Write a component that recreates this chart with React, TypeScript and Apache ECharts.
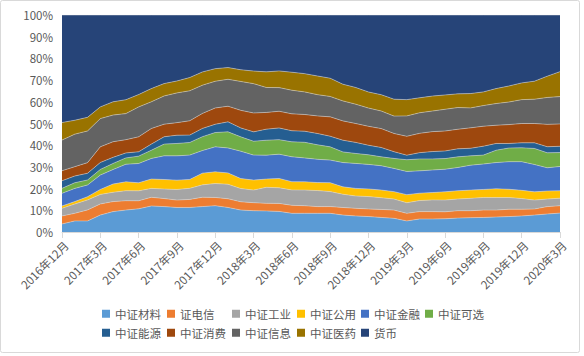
import React, { useEffect, useRef } from "react";
import * as echarts from "echarts";

const months = [
  "2016年12月",
  "2017年1月", "2017年2月", "2017年3月", "2017年4月", "2017年5月", "2017年6月",
  "2017年7月", "2017年8月", "2017年9月", "2017年10月", "2017年11月", "2017年12月",
  "2018年1月", "2018年2月", "2018年3月", "2018年4月", "2018年5月", "2018年6月",
  "2018年7月", "2018年8月", "2018年9月", "2018年10月", "2018年11月", "2018年12月",
  "2019年1月", "2019年2月", "2019年3月", "2019年4月", "2019年5月", "2019年6月",
  "2019年7月", "2019年8月", "2019年9月", "2019年10月", "2019年11月", "2019年12月",
  "2020年1月", "2020年2月", "2020年3月",
];

const seriesNames = [
  "中证材料", "证电信", "中证工业", "中证公用", "中证金融", "中证可选",
  "中证能源", "中证消费", "中证信息", "中证医药", "货币",
];

const colors = [
  "#5B9BD5", "#ED7D31", "#A5A5A5", "#FFC000", "#4472C4", "#70AD47",
  "#255E91", "#9E480E", "#636363", "#997300", "#264478",
];

const materials = [3.7,5.1,5.1,7.8,9.4,10.1,10.7,12.0,11.7,11.3,11.3,11.7,12.1,11.3,10.1,9.8,9.7,9.5,8.6,8.6,8.6,8.6,7.8,7.4,7.1,6.7,6.3,5.1,6.0,6.0,6.1,6.4,6.6,6.7,6.9,7.1,7.4,7.8,8.3,8.7];
const telecom = [3.7,3.5,5.1,5.1,4.6,4.3,3.7,4.0,3.7,3.4,3.7,4.3,3.8,4.0,3.8,3.7,3.5,3.7,3.7,3.5,3.1,3.1,3.5,3.5,3.5,3.7,3.8,3.5,3.4,3.4,3.2,3.4,3.2,3.4,3.2,3.4,3.1,2.8,3.4,3.4];
const industrial = [3.5,4.3,4.6,4.4,4.3,4.6,4.6,4.1,4.4,4.9,5.1,5.7,6.4,6.7,6.1,5.8,7.4,7.2,7.1,7.2,7.4,6.9,6.1,5.7,5.7,5.4,5.1,4.9,5.1,5.4,5.4,5.4,5.7,5.8,5.8,5.4,4.9,4.1,3.5,3.5];
const utilities = [1.1,1.1,1.5,2.3,3.8,4.1,3.7,4.3,4.4,4.3,4.1,5.4,5.4,5.2,4.6,4.6,3.8,4.3,3.8,3.8,3.7,4.1,3.4,3.5,3.5,3.5,3.4,3.7,3.4,3.4,3.8,3.8,3.8,3.7,4.0,3.8,3.8,3.8,3.7,3.4];
const financials = [5.8,6.1,5.4,6.6,6.7,8.1,8.9,9.5,10.9,11.2,11.2,10.4,11.5,11.5,12.6,11.5,11.0,11.2,11.5,11.0,10.7,10.4,11.2,11.5,11.3,11.2,10.7,10.7,10.3,10.4,10.4,10.7,11.5,11.7,12.1,12.7,13.2,12.6,10.7,11.2];
const discretionary = [2.3,2.6,2.3,2.6,2.8,2.9,3.4,3.8,5.4,5.7,5.8,6.4,6.6,7.4,6.6,6.4,6.9,6.7,6.9,7.2,6.7,6.1,4.9,4.6,4.4,4.1,4.6,5.4,5.5,5.1,4.9,4.9,4.3,4.1,5.7,6.3,6.4,7.4,6.9,6.4];
const energy = [3.5,3.1,3.1,3.2,2.8,2.3,2.0,2.8,3.4,3.8,3.4,3.8,3.8,4.6,4.1,4.3,5.1,5.4,5.1,5.1,5.2,4.9,5.4,5.1,4.4,4.3,3.1,2.1,2.9,3.4,3.5,3.7,3.5,4.1,3.1,2.1,2.3,2.6,2.8,2.9];
const staples = [4.6,4.3,4.9,7.2,7.2,6.1,6.9,7.2,5.8,5.8,6.6,6.9,7.5,7.2,8.1,8.7,7.7,7.7,7.8,7.7,8.1,8.9,8.9,8.7,8.7,8.7,8.4,8.7,8.9,9.2,9.2,9.0,9.4,9.2,8.4,8.7,8.9,8.9,10.3,10.3];
const infotech = [14.1,15.0,14.6,13.0,12.3,12.0,13.8,12.3,13.0,13.7,13.8,13.0,12.3,12.4,13.3,13.5,11.5,10.9,10.9,10.4,9.8,9.4,9.2,8.9,8.4,8.1,8.0,9.4,9.5,9.5,10.0,10.0,9.2,9.5,10.0,10.4,11.0,11.2,12.4,12.6];
const healthcare = [8.1,6.4,6.3,5.4,6.1,6.4,5.7,6.1,5.7,5.5,6.1,6.1,5.8,5.4,5.4,5.8,7.2,7.7,8.3,8.4,8.6,8.4,7.7,7.7,7.4,7.5,7.8,7.5,6.9,6.9,6.6,6.3,6.6,6.3,6.9,7.4,7.7,8.3,9.8,11.5];
const money = [49.5,48.5,47.2,42.3,40.0,39.0,36.7,33.9,31.6,30.4,28.8,26.2,24.7,24.2,25.2,25.8,26.2,25.8,26.4,27.0,28.1,29.1,31.9,33.4,35.4,36.7,38.8,39.0,38.2,37.4,36.8,36.3,36.2,35.4,33.9,32.7,31.3,30.5,28.2,26.1];

const yTicks = [0, 10, 20, 30, 40, 50, 60, 70, 80, 90, 100];

const allValues = [
  materials, telecom, industrial, utilities, financials, discretionary,
  energy, staples, infotech, healthcare, money,
];

const FONT = "'Noto Sans CJK SC', 'Microsoft YaHei', sans-serif";

// legend layout: 6 columns, 2 rows
const legendColLeft = [102, 167, 232, 297, 361, 425];
const legendRowTop = [308, 327];

export default function App() {
  const ref = useRef<HTMLDivElement>(null);

  useEffect(() => {
    document.body.style.margin = "0";
    if (!ref.current) return;
    const chart = echarts.init(ref.current, undefined, { renderer: "svg" });

    const totals = months.map((_, i) =>
      allValues.reduce((s, arr) => s + arr[i], 0)
    );

    const series = allValues.map((arr, k) => ({
      name: seriesNames[k],
      type: "line" as const,
      stack: "total",
      showSymbol: false,
      symbol: "none",
      data: arr.map((v, i) => (v / totals[i]) * 100),
      itemStyle: { color: colors[k] },
      lineStyle: { width: 0.6, color: "rgba(220,220,220,0.8)" },
      areaStyle: { color: colors[k], opacity: 1 },
      emphasis: { disabled: true },
    }));

    const legends = seriesNames.map((name, k) => ({
      left: legendColLeft[k % 6],
      top: legendRowTop[Math.floor(k / 6)],
      padding: 0,
      orient: "horizontal" as const,
      icon: "rect",
      itemWidth: 8,
      itemHeight: 8,
      itemGap: 0,
      selectedMode: false,
      data: [name],
      textStyle: {
        fontSize: 11.5,
        color: "#595959",
        fontFamily: FONT,
      },
    }));

    chart.setOption({
      animation: false,
      color: colors,
      textStyle: { fontFamily: FONT },
      graphic: [
        {
          type: "rect",
          shape: { x: 0.5, y: 0.5, width: 579, height: 352, r: 2 },
          style: { fill: "none", stroke: "#d9d9d9", lineWidth: 1 },
          silent: true,
        },
      ],
      grid: { left: 62, right: 24, top: 15, bottom: 124 },
      legend: legends,
      xAxis: {
        type: "category",
        data: months,
        boundaryGap: false,
        axisLine: { show: true, lineStyle: { color: "#d9d9d9", width: 1 } },
        axisTick: {
          show: true,
          interval: 2,
          length: 6,
          lineStyle: { color: "#d9d9d9" },
        },
        axisLabel: {
          interval: 2,
          rotate: 45,
          margin: 7,
          verticalAlign: "top",
          fontSize: 11.5,
          color: "#595959",
          fontFamily: FONT,
        },
        splitLine: { show: false },
      },
      yAxis: {
        type: "value",
        min: yTicks[0],
        max: yTicks[yTicks.length - 1],
        interval: 10,
        axisLine: { show: false },
        axisTick: { show: false },
        splitLine: { show: false },
        axisLabel: {
          formatter: "{value}%",
          fontSize: 11.5,
          color: "#595959",
          margin: 9,
          fontFamily: FONT,
        },
      },
      series,
    });

    return () => chart.dispose();
  }, []);

  return <div ref={ref} style={{ width: 584, height: 356 }} />;
}
